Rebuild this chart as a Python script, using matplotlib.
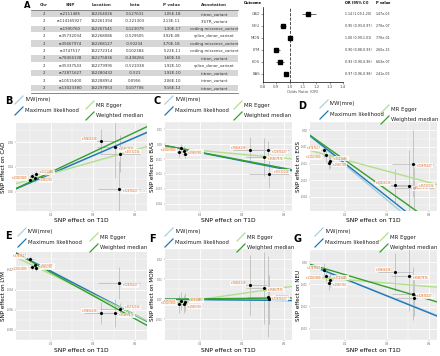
import numpy as np
import matplotlib.pyplot as plt
from matplotlib.ticker import FormatStrFormatter

W, H = 440, 356

# ---- panel A: lead SNP table
tab_chr = [2] * 11
tab_snp = ["rs2111485", "rs114165927", "rs1990760", "rs35732034", "rs35667974", "rs3747517",
           "rs78456138", "rs35337543", "rs72871627", "rs10515400", "rs13023380"]
tab_loc = [162254026, 162261394, 162267541, 162268086, 162268127, 162272314,
           162275836, 162279995, 162280432, 162288954, 162297853]
tab_beta = [0.127631, -0.221303, 0.123079, -0.529505, -0.50234, 0.102384,
            -0.438266, -0.521038, -0.521, 0.0956, 0.107706]
tab_p = ["1.05E-18", "2.13E-11", "1.30E-17", "3.92E-08", "3.70E-18", "5.22E-11",
         "1.60E-16", "1.92E-10", "1.92E-10", "2.06E-10", "9.16E-12"]
tab_annot = ["intron_variant", "3'UTR_variant", "coding missense_variant", "splice_donor_variant",
             "coding missense_variant", "coding missense_variant", "intron_variant",
             "splice_donor_variant", "intron_variant", "intron_variant", "intron_variant"]

# ---- forest plot
outcomes = ["CAD", "NEU", "MON", "LYM", "EOS", "BAS"]
or_val = [1.14, 0.95, 1.00, 0.90, 0.93, 0.97]
or_lo = [1.09, 0.93, 0.99, 0.88, 0.90, 0.96]
or_hi = [1.20, 0.97, 1.01, 0.93, 0.96, 0.98]
or_p = ["1.47e-03", "2.76e-07", "7.76e-01", "2.60e-15", "6.63e-07", "2.41e-05"]

# ---- MR scatter panels (SNP effects)
mr_snps = ["rs2111485", "rs1990760", "rs3747517", "rs13023380",
           "rs78456138", "rs35667974", "rs35732034", "rs72871627"]
t1d_beta = [0.128, 0.123, 0.102, 0.108, 0.438, 0.502, 0.530, 0.521]
t1d_err = [0.015, 0.015, 0.018, 0.015, 0.08, 0.085, 0.095, 0.10]

cad_beta = [0.028, 0.022, 0.019, 0.025, 0.0815, 0.072, 0.0615, 0.0046]
cad_err = [0.006, 0.006, 0.007, 0.006, 0.02, 0.05, 0.03, 0.045]
cad_fit = [0.145, 0.146, 0.096, 0.160]      # IVW, ML, Egger, weighted median
cad_int = 0.010

bas_beta = [-0.0065, -0.0045, -0.0055, -0.0025, -0.0038, -0.0085, -0.0198, -0.0038]
bas_err = [0.003, 0.003, 0.003, 0.003, 0.0085, 0.0127, 0.010, 0.006]
bas_fit = [-0.027, -0.028, -0.0133, -0.027]
bas_int = -0.0015

eos_beta = [-0.0185, -0.0195, -0.012, -0.015, -0.0331, -0.0336, -0.0345, -0.020]
eos_err = [0.004, 0.004, 0.004, 0.004, 0.010, 0.022, 0.012, 0.020]
eos_fit = [-0.105, -0.100, -0.034, -0.090]
eos_int = -0.011

lym_beta = [-0.0186, -0.0157, -0.0091, -0.0171, -0.0629, -0.0634, -0.0594, -0.0334]
lym_err = [0.003, 0.003, 0.003, 0.003, 0.011, 0.014, 0.006, 0.0157]
lym_fit = [-0.108, -0.109, -0.101, -0.115]
lym_int = -0.0045

mon_beta = [-0.0015, -0.0026, -0.0022, -0.0009, 0.0069, 0.0057, -0.0001, 0.0013]
mon_err = [0.0045, 0.0045, 0.0045, 0.0045, 0.015, 0.018, 0.012, 0.020]
mon_fit = [-0.001, -0.001, 0.0149, 0.001]
mon_int = -0.0031

neu_beta = [-0.008, -0.0093, -0.0035, -0.006, -0.0043, -0.0061, -0.0162, -0.0142]
neu_err = [0.003, 0.003, 0.003, 0.003, 0.0086, 0.016, 0.008, 0.012]
neu_fit = [-0.0375, -0.038, -0.0077, -0.028]
neu_int = -0.0063

method_names = ["IVW(mre)", "Maximum likelihood", "MR Egger", "Weighted median"]
method_colors = ["#a6cee3", "#1f78b4", "#b2df8a", "#33a02c"]

fig = plt.figure(figsize=(4.4, 3.56), dpi=100)


def px_axes(x0, y0, x1, y1):
    return fig.add_axes([x0 / W, 1 - y1 / H, (x1 - x0) / W, (y1 - y0) / H])


# forest plot
fa = px_axes(263, 7, 343, 82)
ypos = np.arange(len(outcomes))
fa.errorbar(or_val, ypos, xerr=[np.subtract(or_val, or_lo), np.subtract(or_hi, or_val)],
            fmt='s', color='black', ms=2.4, elinewidth=0.5, ecolor='#333333', capsize=0)
fa.axvline(1.0, color='#333333', lw=0.6, ls='--')
fa.set_xlim(0.8, 1.4)
fa.set_ylim(5.67, -0.58)
fa.set_yticks(ypos)
fa.set_yticklabels(outcomes)
fa.set_xticks(np.arange(0.8, 1.41, 0.1))
fa.xaxis.set_major_formatter(FormatStrFormatter('%.1f'))
fa.tick_params(labelsize=2.8, colors='#555555', length=1.2, width=0.4, pad=1)
fa.set_xlabel("Odds Ratio (OR)", fontsize=2.8, color='#555555', labelpad=1)
for s in ['top', 'right']:
    fa.spines[s].set_visible(False)
for s in ['left', 'bottom']:
    fa.spines[s].set_linewidth(0.5)


def mr_panel(box, ys, yerr, fit, egger_int, ylim, yticks, outcome):
    ax = px_axes(*box)
    ax.set_facecolor('#ebebeb')
    x0 = 0.033
    x1 = x0 + (box[2] - box[0]) * 0.00476
    ax.set_xlim(x0, x1)
    ax.set_ylim(*ylim)
    ax.set_xticks([0.2, 0.4, 0.6])
    ax.set_xticks([0.1, 0.3, 0.5], minor=True)
    ax.set_yticks(yticks)
    step = yticks[1] - yticks[0]
    ax.set_yticks([t + step / 2 for t in yticks] + [yticks[0] - step / 2], minor=True)
    ax.xaxis.set_major_formatter(FormatStrFormatter('%.1f'))
    ax.yaxis.set_major_formatter(FormatStrFormatter('%.2f'))
    ax.grid(which='major', color='white', lw=0.6)
    ax.grid(which='minor', color='white', lw=0.3)
    ax.set_axisbelow(True)
    for s in ax.spines.values():
        s.set_visible(False)
    ax.tick_params(labelsize=2.0, colors='#666666', length=1.0, width=0.3, pad=0.6)
    ax.tick_params(which='minor', length=0)
    ax.errorbar(t1d_beta, ys, xerr=t1d_err, yerr=yerr, fmt='none',
                ecolor='#b5b5b5', elinewidth=0.5, capsize=0, zorder=2)
    xs = np.array([x0, x1])
    ax.plot(xs, fit[0] * xs, color=method_colors[0], lw=1.0, zorder=3)
    ax.plot(xs, fit[1] * xs, color=method_colors[1], lw=1.0, zorder=3)
    ax.plot(xs, egger_int + fit[2] * xs, color=method_colors[2], lw=1.0, zorder=3)
    ax.plot(xs, fit[3] * xs, color=method_colors[3], lw=1.0, zorder=3)
    ax.scatter(t1d_beta, ys, s=1.5, color='black', zorder=5)
    for i, name in enumerate(mr_snps):
        side = -1 if i in (2, 3, 4) else 1
        dy = 1.5 if i % 2 == 0 else -1.5
        ax.annotate(name, (t1d_beta[i], ys[i]), xytext=(side * 3, dy), textcoords='offset points',
                    fontsize=1.9, color='#e2661c', ha='left' if side > 0 else 'right', va='center',
                    bbox=dict(boxstyle='square,pad=0.2', fc='white', ec='none', alpha=0.8), zorder=6)
    cx = (box[0] + box[2]) / 2
    cy = (box[1] + box[3]) / 2
    return ax, cx, cy


panels = [
    ((16, 123, 147, 211), cad_beta, cad_err, cad_fit, cad_int, (-0.031, 0.111), [0.0, 0.04, 0.08], "CAD"),
    ((165, 122, 292, 211), bas_beta, bas_err, bas_fit, bas_int, (-0.0405, 0.012),
     [-0.04, -0.03, -0.02, -0.01, 0.0, 0.01], "BAS"),
    ((310, 122, 437, 211), eos_beta, eos_err, eos_fit, eos_int, (-0.0486, 0.0022),
     [-0.04, -0.03, -0.02, -0.01, 0.0], "EOS"),
    ((16, 252, 147, 340), lym_beta, lym_err, lym_fit, lym_int, (-0.0823, -0.0026),
     [-0.08, -0.06, -0.04, -0.02], "LYM"),
    ((165, 249, 292, 340), mon_beta, mon_err, mon_fit, mon_int, (-0.0203, 0.0216),
     [-0.01, 0.0, 0.01, 0.02], "MON"),
    ((310, 250, 437, 340), neu_beta, neu_err, neu_fit, neu_int, (-0.0313, 0.0055),
     [-0.03, -0.02, -0.01, 0.0], "NEU"),
]
ylab_x = [4, 153, 298, 4, 153, 298]
label_centers = []
for p, yx in zip(panels, ylab_x):
    ax, cx, cy = mr_panel(*p)
    label_centers.append((cx, cy, yx, p[7], p[0][3]))

# overlay for text in pixel coordinates
ov = fig.add_axes([0, 0, 1, 1], facecolor='none')
ov.set_xlim(0, W)
ov.set_ylim(H, 0)
ov.axis('off')

for cx, cy, yx, name, bottom in label_centers:
    ov.text(cx, bottom + 10, "SNP effect on T1D", fontsize=4.3, ha='center', va='center')
    ov.text(yx, cy, "SNP effect on " + name, fontsize=4.1, rotation=90, ha='center', va='center')

# table
ov.text(27, 5, "A", fontsize=6, fontweight='bold', ha='center', va='center')
col_x = [44, 70, 102, 135, 172, 214]
headers = ["Chr", "SNP", "Location", "beta", "P value", "Annotation"]
for x, h in zip(col_x, headers):
    ov.text(x, 5, h, fontsize=3.0, fontweight='bold', ha='center', va='center', color='#333333')
ov.plot([31, 238], [9.5, 9.5], color='#555555', lw=0.5)
for i in range(len(tab_snp)):
    y = 14 + 7.4 * i
    if i % 2 == 0:
        ov.add_patch(plt.Rectangle((31, y - 3.3), 207, 6.6, color='#d6d6d6', lw=0))
    vals = [str(tab_chr[i]), tab_snp[i], str(tab_loc[i]), str(tab_beta[i]), tab_p[i], tab_annot[i]]
    for x, v in zip(col_x, vals):
        ov.text(x, y, v, fontsize=2.8, ha='center', va='center', color='#333333')
ov.plot([31, 238], [92.5, 92.5], color='#555555', lw=0.5)

# forest text columns
ov.text(262, 2.5, "Outcome", fontsize=2.6, fontweight='bold', ha='right', va='center')
ov.text(345, 2.5, "OR (95% CI)", fontsize=2.5, fontweight='bold', ha='left', va='center')
ov.text(376, 2.5, "P value", fontsize=2.5, fontweight='bold', ha='left', va='center')
for i in range(len(outcomes)):
    y = 14 + 12 * i
    ov.text(345, y, "%.2f (%.2f-%.2f)" % (or_val[i], or_lo[i], or_hi[i]),
            fontsize=2.3, ha='left', va='center', color='#333333')
    ov.text(376, y, or_p[i], fontsize=2.3, ha='left', va='center', color='#333333')

# panel letters and legends
letters = [("B", 9, 101), ("C", 157, 101), ("D", 302, 106), ("E", 8, 236), ("F", 152, 239), ("G", 297, 239)]
for t, x, y in letters:
    ov.text(x, y, t, fontsize=7, fontweight='bold', ha='center', va='center')

legend_pos = [(15, 86, 100), (165, 234, 100), (320, 381, 104), (18, 90, 232), (165, 237, 232), (315, 380, 232)]
for k1, k2, ya in legend_pos:
    spots = [(k1, ya), (k1, ya + 11), (k2, ya + 5), (k2, ya + 16)]
    for (kx, ky), name, col in zip(spots, method_names, method_colors):
        ov.plot([kx, kx + 8], [ky + 4, ky - 4], color=col, lw=0.9)
        ov.text(kx + 10, ky, name, fontsize=3.9, ha='left', va='center', color='#222222')

fig.savefig("out.png", dpi=100)
